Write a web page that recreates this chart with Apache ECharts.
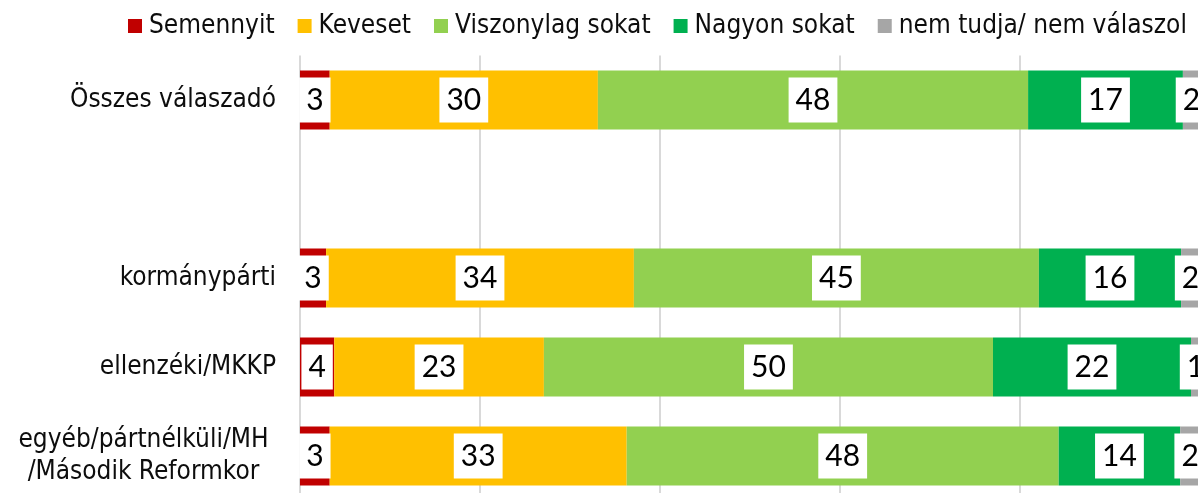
<!DOCTYPE html>
<html>
<head>
<meta charset="utf-8">
<script src="https://cdn.jsdelivr.net/npm/echarts@6/dist/echarts.min.js"></script>
<style>
html,body{margin:0;padding:0;background:#fff;overflow:hidden;}
#chart{width:1198px;height:493px;}
</style>
</head>
<body>
<div id="chart"></div>
<script>
const categories = ['Összes válaszadó', '', 'kormánypárti', 'ellenzéki/MKKP', 'egyéb/pártnélküli/MH\n/Második Reformkor'];
const seriesNames = ['Semennyit', 'Keveset', 'Viszonylag sokat', 'Nagyon sokat', 'nem tudja/ nem válaszol'];
const semennyit = [3.3, null, 2.9, 3.8, 3.3];
const keveset = [29.8, null, 34.2, 23.3, 33.0];
const viszonylagSokat = [47.8, null, 45.0, 49.9, 48.0];
const nagyonSokat = [17.2, null, 15.8, 22.0, 13.5];
const nemTudja = [1.9, null, 2.1, 1.0, 2.2];
const xTicks = [0, 20, 40, 60, 80, 100];

const colors = ['#C00000', '#FFC000', '#92D050', '#00B050', '#A6A6A6'];
const values = [semennyit, keveset, viszonylagSokat, nagyonSokat, nemTudja];
const FONT = '"DejaVu Sans Condensed", "DejaVu Sans", sans-serif';
const LABEL_FONT = 'Lato, "Open Sans", sans-serif';

const yData = categories.map(c => {
  if (c.indexOf('\n') >= 0) {
    return { value: c, textStyle: { align: 'center', verticalAlign: 'middle', padding: [0, 265, 0, 0] } };
  }
  return c;
});

const chart = echarts.init(document.getElementById('chart'));
chart.setOption({
  animation: false,
  color: colors,
  legend: {
    data: seriesNames,
    left: 128,
    top: 13,
    width: 1200,
    padding: 0,
    itemWidth: 14,
    itemHeight: 14,
    itemGap: 23,
    icon: 'rect',
    textStyle: { fontFamily: FONT, fontSize: 26, color: '#0d0d0d', padding: [0, 0, 0, 2] }
  },
  grid: { left: 300, width: 900, top: 55.5, height: 445, containLabel: false, outerBoundsMode: 'none' },
  xAxis: {
    type: 'value',
    min: xTicks[0],
    max: xTicks[xTicks.length - 1],
    interval: xTicks[1] - xTicks[0],
    axisLabel: { show: false },
    axisLine: { show: false },
    axisTick: { show: false },
    splitLine: { show: true, lineStyle: { color: '#d9d9d9', width: 2 } }
  },
  yAxis: {
    type: 'category',
    inverse: true,
    data: yData,
    axisLine: { show: false },
    axisTick: { show: false },
    axisLabel: { margin: 24, fontFamily: FONT, fontSize: 26, lineHeight: 32, color: '#0d0d0d' }
  },
  series: seriesNames.map((name, i) => ({
    name: name,
    type: 'bar',
    stack: 'total',
    barWidth: 59,
    data: values[i],
    itemStyle: { color: colors[i] },
    label: {
      show: true,
      position: 'inside',
      formatter: p => Math.round(p.value),
      color: '#000',
      backgroundColor: '#fff',
      fontFamily: LABEL_FONT,
      fontSize: 30,
      lineHeight: 35,
      padding: [5, 7]
    }
  }))
});
</script>
</body>
</html>
